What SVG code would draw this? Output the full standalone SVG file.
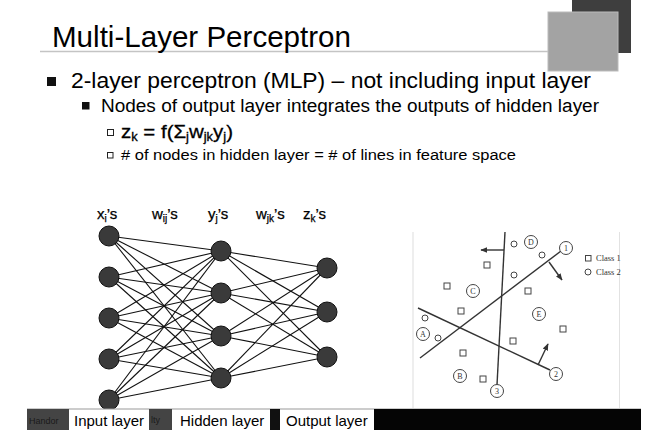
<svg xmlns="http://www.w3.org/2000/svg" width="650" height="435" viewBox="0 0 650 435">
<style>
.t{font-family:"Liberation Sans",Arial,sans-serif;fill:#000}
.nd{fill:#3a3a3a;stroke:#111;stroke-width:1}
.cn line{stroke:#111;stroke-width:1.1}
.fs{stroke:#333;stroke-width:1.4;fill:none}
.pt{stroke:#444;stroke-width:1;fill:#fff}
.lb{font-family:"Liberation Serif","Times New Roman",serif;font-size:8px;fill:#333;text-anchor:middle}
.lg{font-family:"Liberation Serif","Times New Roman",serif;font-size:8.5px;fill:#333;text-anchor:start}
.bar{font-family:"Liberation Sans",Arial,sans-serif;font-size:15px;fill:#000}
</style>
<defs>
<marker id="ah" viewBox="0 0 10 10" refX="9" refY="5" markerWidth="7" markerHeight="7" orient="auto-start-reverse" markerUnits="userSpaceOnUse">
<path d="M0,1 L10,5 L0,9 Z" fill="#333"/>
</marker>
</defs>
<rect width="650" height="435" fill="#fff"/>

<!-- header decoration -->
<rect x="572" y="0" width="59" height="53" fill="#3e3e3e"/>
<rect x="548" y="12" width="70" height="59" fill="#a3a3a3" stroke="#bbb" stroke-width="1"/>
<line x1="40" y1="51.5" x2="548" y2="51.5" stroke="#c4c4c4" stroke-width="1.5"/>
<text class="t" x="52" y="47" font-size="29" textLength="299" lengthAdjust="spacingAndGlyphs">Multi-Layer Perceptron</text>

<!-- bullets -->
<rect x="47" y="77" width="9" height="9" fill="#111"/>
<text class="t" x="71" y="88" font-size="22" textLength="520" lengthAdjust="spacingAndGlyphs">2-layer perceptron (MLP) – not including input layer</text>
<rect x="82" y="102" width="7.5" height="7.5" fill="#111"/>
<text class="t" x="101" y="112" font-size="18" fill="#222" textLength="498" lengthAdjust="spacingAndGlyphs">Nodes of output layer integrates the outputs of hidden layer</text>
<rect x="107.5" y="129.5" width="6" height="6" fill="none" stroke="#222" stroke-width="1"/>
<text class="t" x="121" y="138" font-size="19" stroke="#000" stroke-width="0.3" textLength="112" lengthAdjust="spacingAndGlyphs">z<tspan font-size="12" dy="3">k</tspan><tspan dy="-3"> = f(Σ</tspan><tspan font-size="12" dy="3">j</tspan><tspan dy="-3">w</tspan><tspan font-size="12" dy="3">jk</tspan><tspan dy="-3">y</tspan><tspan font-size="12" dy="3">j</tspan><tspan dy="-3">)</tspan></text>
<rect x="107.5" y="152.5" width="5.5" height="5.5" fill="none" stroke="#222" stroke-width="1"/>
<text class="t" x="121" y="160" font-size="14" fill="#222" textLength="395" lengthAdjust="spacingAndGlyphs"># of nodes in hidden layer = # of lines in feature space</text>

<!-- network labels -->
<g id="net-labels" class="t" font-size="15" stroke="#000" stroke-width="0.25">
<text x="97" y="219">x<tspan font-size="10" dy="3">i</tspan><tspan dy="-3">’s</tspan></text>
<text x="152" y="219">w<tspan font-size="10" dy="3">ij</tspan><tspan dy="-3">’s</tspan></text>
<text x="208" y="219">y<tspan font-size="10" dy="3">j</tspan><tspan dy="-3">’s</tspan></text>
<text x="256" y="219">w<tspan font-size="10" dy="3">jk</tspan><tspan dy="-3">’s</tspan></text>
<text x="303" y="219">z<tspan font-size="10" dy="3">k</tspan><tspan dy="-3">’s</tspan></text>
</g>

<!-- connectors -->
<g id="connectors" class="cn">
<line x1="109" y1="236" x2="221" y2="251"/><line x1="109" y1="236" x2="221" y2="293"/><line x1="109" y1="236" x2="221" y2="336"/><line x1="109" y1="236" x2="221" y2="378"/>
<line x1="109" y1="277" x2="221" y2="251"/><line x1="109" y1="277" x2="221" y2="293"/><line x1="109" y1="277" x2="221" y2="336"/><line x1="109" y1="277" x2="221" y2="378"/>
<line x1="109" y1="318" x2="221" y2="251"/><line x1="109" y1="318" x2="221" y2="293"/><line x1="109" y1="318" x2="221" y2="336"/><line x1="109" y1="318" x2="221" y2="378"/>
<line x1="109" y1="359" x2="221" y2="251"/><line x1="109" y1="359" x2="221" y2="293"/><line x1="109" y1="359" x2="221" y2="336"/><line x1="109" y1="359" x2="221" y2="378"/>
<line x1="109" y1="400" x2="221" y2="251"/><line x1="109" y1="400" x2="221" y2="293"/><line x1="109" y1="400" x2="221" y2="336"/><line x1="109" y1="400" x2="221" y2="378"/>
<line x1="221" y1="251" x2="327" y2="268"/><line x1="221" y1="251" x2="327" y2="312"/><line x1="221" y1="251" x2="327" y2="357"/>
<line x1="221" y1="293" x2="327" y2="268"/><line x1="221" y1="293" x2="327" y2="312"/><line x1="221" y1="293" x2="327" y2="357"/>
<line x1="221" y1="336" x2="327" y2="268"/><line x1="221" y1="336" x2="327" y2="312"/><line x1="221" y1="336" x2="327" y2="357"/>
<line x1="221" y1="378" x2="327" y2="268"/><line x1="221" y1="378" x2="327" y2="312"/><line x1="221" y1="378" x2="327" y2="357"/>
</g>

<!-- nodes -->
<g id="x1"><circle class="nd" cx="109" cy="236" r="10"/></g>
<g id="x2"><circle class="nd" cx="109" cy="277" r="10"/></g>
<g id="x3"><circle class="nd" cx="109" cy="318" r="10"/></g>
<g id="x4"><circle class="nd" cx="109" cy="359" r="10"/></g>
<g id="x5"><circle class="nd" cx="109" cy="400" r="10"/></g>
<g id="y1"><circle class="nd" cx="221" cy="251" r="10"/></g>
<g id="y2"><circle class="nd" cx="221" cy="293" r="10"/></g>
<g id="y3"><circle class="nd" cx="221" cy="336" r="10"/></g>
<g id="y4"><circle class="nd" cx="221" cy="378" r="10"/></g>
<g id="z1"><circle class="nd" cx="327" cy="268" r="10"/></g>
<g id="z2"><circle class="nd" cx="327" cy="312" r="10"/></g>
<g id="z3"><circle class="nd" cx="327" cy="357" r="10"/></g>

<!-- feature space figure -->
<g id="feature-space">
<line x1="413" y1="232" x2="413" y2="408" stroke="#ddd" stroke-width="1"/>
<line x1="619.5" y1="232" x2="619.5" y2="408" stroke="#e2e2e2" stroke-width="1"/>
<line class="fs" x1="505" y1="232" x2="497" y2="385"/>
<line class="fs" x1="420" y1="358" x2="561" y2="251"/>
<line class="fs" x1="418" y1="308" x2="550" y2="370"/>
<line class="fs" x1="504" y1="250" x2="481" y2="250" marker-end="url(#ah)"/>
<line class="fs" x1="549" y1="262" x2="562" y2="280" marker-end="url(#ah)"/>
<line class="fs" x1="538" y1="365" x2="548" y2="344" marker-end="url(#ah)"/>
<g class="pt">
<circle cx="566" cy="248" r="6.5"/><circle cx="556" cy="374" r="6.5"/><circle cx="497" cy="391" r="6.5"/>
<circle cx="531" cy="242" r="6.5"/><circle cx="473" cy="291" r="6.5"/><circle cx="539" cy="314" r="6.5"/>
<circle cx="423" cy="334" r="6.5"/><circle cx="460" cy="376" r="6.5"/>
<circle cx="514" cy="244" r="3"/><circle cx="542" cy="255" r="3"/><circle cx="514" cy="275" r="3"/>
<circle cx="425" cy="318" r="3"/><circle cx="438" cy="338" r="3"/>
<rect x="484" y="262" width="6" height="6"/><rect x="444" y="283" width="6" height="6"/>
<rect x="525" y="288" width="6" height="6"/><rect x="458" y="308" width="6" height="6"/>
<rect x="560" y="326" width="6" height="6"/><rect x="510" y="338" width="6" height="6"/>
<rect x="460" y="350" width="6" height="6"/><rect x="480" y="376" width="6" height="6"/>
<rect x="585.5" y="255.5" width="5.5" height="5.5"/><circle cx="588" cy="272" r="3"/>
</g>
<text class="lb" x="566" y="251">1</text><text class="lb" x="556" y="377">2</text><text class="lb" x="497" y="394">3</text>
<text class="lb" x="531" y="245">D</text><text class="lb" x="473" y="294">C</text><text class="lb" x="539" y="317">E</text>
<text class="lb" x="423" y="337">A</text><text class="lb" x="460" y="379">B</text>
<text class="lg" x="596" y="261">Class 1</text>
<text class="lg" x="596" y="275">Class 2</text>
</g>

<!-- bottom bar -->
<g id="bottom-bar">
<rect x="27" y="409" width="614" height="22" fill="#fff"/>
<line x1="27" y1="409" x2="641" y2="409" stroke="#999" stroke-width="1"/>
<rect x="27" y="409" width="42" height="21" fill="#444"/>
<text x="29" y="424" font-family="Liberation Sans,Arial,sans-serif" font-size="9" fill="#1a1a1a">Handor</text>
<text class="bar" x="74" y="426" font-size="15.5">Input layer</text>
<rect x="149" y="409" width="23" height="21" fill="#444"/>
<text x="151" y="423" font-family="Liberation Sans,Arial,sans-serif" font-size="9" fill="#1a1a1a">lty</text>
<text class="bar" x="180" y="426">Hidden layer</text>
<rect x="270" y="409" width="10" height="21" fill="#111"/>
<text class="bar" x="286" y="426">Output layer</text>
<rect x="374" y="409" width="267" height="21" fill="#050505"/>
</g>
</svg>
